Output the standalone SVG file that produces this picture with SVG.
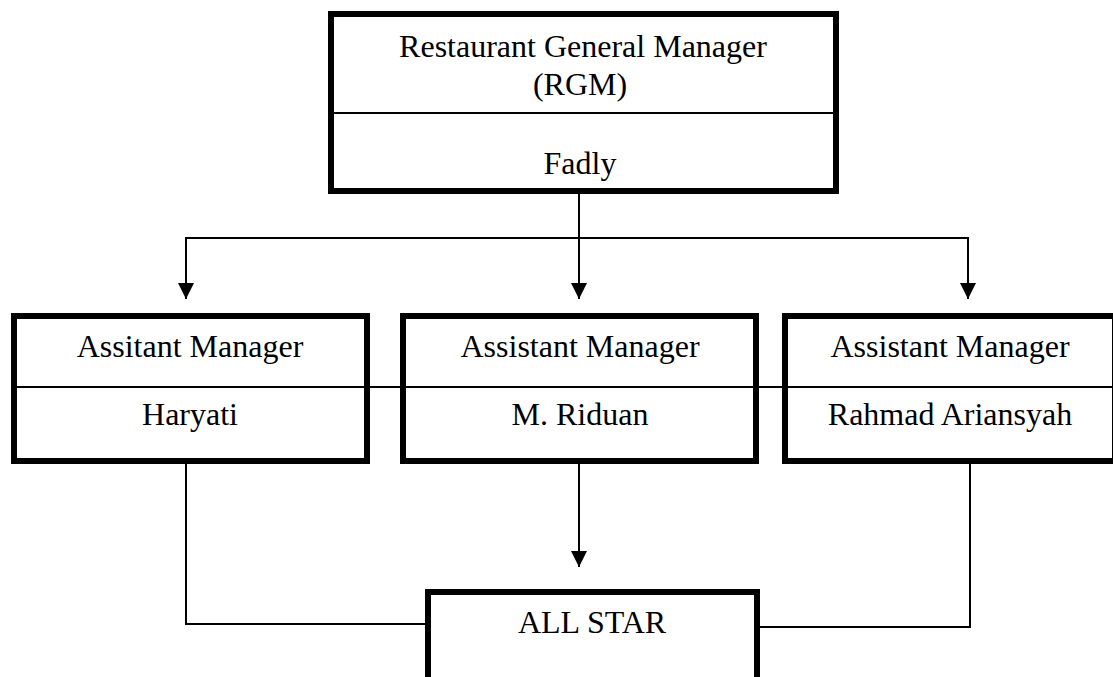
<svg xmlns="http://www.w3.org/2000/svg" width="1113" height="677" viewBox="0 0 1113 677">
<style>
.box{fill:#fff;stroke:#000;stroke-width:6}
.div{stroke:#000;stroke-width:2}
.con{fill:none;stroke:#000;stroke-width:2}
text{font-family:"Liberation Serif","Times New Roman",serif;font-size:32px;fill:#000;text-anchor:middle}
</style>
<defs>
<marker id="arr" markerUnits="userSpaceOnUse" markerWidth="16" markerHeight="16" refX="16" refY="8" orient="auto" viewBox="0 0 16 16">
<path d="M0,0 L16,8 L0,16 z" fill="#000"/>
</marker>
</defs>
<rect width="1113" height="677" fill="#fff"/>
<g id="rgm">
<rect class="box" x="331" y="14" width="505" height="177"/>
<line class="div" x1="334" y1="113" x2="833" y2="113"/>
<text x="583" y="57">Restaurant General Manager</text>
<text x="580" y="95">(RGM)</text>
<text x="580" y="174">Fadly</text>
</g>
<g id="connectors">
<polyline class="con" points="579,238 186,238 186,299" marker-end="url(#arr)"/>
<polyline class="con" points="579,238 968,238 968,299" marker-end="url(#arr)"/>
<line class="con" x1="579" y1="194" x2="579" y2="299" marker-end="url(#arr)"/>
<line class="con" x1="579" y1="464" x2="579" y2="567" marker-end="url(#arr)"/>
<polyline class="con" points="186,464 186,624 425,624"/>
<polyline class="con" points="970,464 970,627 760,627"/>
<line class="div" x1="17" y1="387" x2="1112" y2="387"/>
</g>
<g id="am1">
<rect class="box" x="14" y="316" width="353" height="145"/>
<line class="div" x1="17" y1="387" x2="364" y2="387"/>
<text x="190" y="357">Assitant Manager</text>
<text x="190" y="425">Haryati</text>
</g>
<g id="am2">
<rect class="box" x="403" y="316" width="353" height="145"/>
<line class="div" x1="406" y1="387" x2="753" y2="387"/>
<text x="580" y="357">Assistant Manager</text>
<text x="580" y="425">M. Riduan</text>
</g>
<g id="am3">
<rect class="box" x="785" y="316" width="330" height="145"/>
<line class="div" x1="788" y1="387" x2="1112" y2="387"/>
<text x="950" y="357">Assistant Manager</text>
<text x="950" y="425">Rahmad Ariansyah</text>
</g>
<g id="allstar">
<rect class="box" x="428" y="592" width="329" height="88"/>
<text x="592" y="633">ALL STAR</text>
</g>
</svg>
